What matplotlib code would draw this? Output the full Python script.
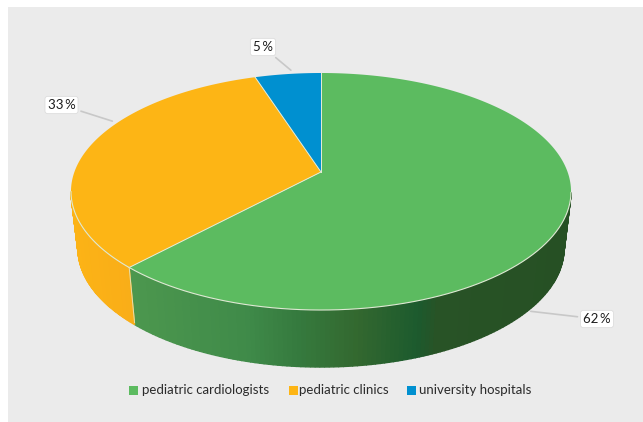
import matplotlib
matplotlib.use("Agg")
import matplotlib.pyplot as plt
import numpy as np

categories = ["pediatric cardiologists", "pediatric clinics", "university hospitals"]
shares = [62, 33, 5]
share_labels = ["62\u2009%", "33\u2009%", "5\u2009%"]
top_colors = ["#5cbb60", "#fdb515", "#0090d0"]

# side wall shading, left to right across the front of the pie
green_stops = [(133, "#4c974e"), (250, "#3f8a49"), (300, "#357a3e"), (360, "#33682f"),
               (420, "#1c5a2e"), (440, "#285326"), (571, "#265024")]
orange_stops = [(71, "#fcb316"), (133, "#f9ad18")]
depth = 57
shrink = 0.972

# circle seen in perspective, numbers in image pixels
cx, cy = 321, 172
a, b, k = 246.6, 115.3, 0.1646

def project(ang):
    u = np.sin(ang)
    v = np.cos(ang)
    d = 1 + k * v
    return cx + a * u / d, cy - b * v / d

def shade(x, stops):
    xs = [s[0] for s in stops]
    rgb = np.array([matplotlib.colors.to_rgb(s[1]) for s in stops])
    return [np.interp(x, xs, rgb[:, i]) for i in range(3)]

plt.rcParams["font.family"] = ["Lato", "DejaVu Sans"]

fig = plt.figure(figsize=(6.43, 4.22), dpi=100, facecolor="white")
ax = fig.add_axes([0, 0, 1, 1])
ax.set_xlim(0, 643)
ax.set_ylim(422, 0)
ax.axis("off")
ax.add_patch(plt.Rectangle((8, 7), 635, 415, color="#ebebeb", lw=0))

wall_from = np.arccos(-k)
start = 0
for i, share in enumerate(shares):
    end = start + share / sum(shares) * 2 * np.pi
    t = np.linspace(start, end, 240)
    x, y = project(t)

    # side wall only on the part of the rim facing the viewer
    stops = green_stops if i == 0 else orange_stops
    if i < 2:
        for j in range(len(t) - 1):
            if t[j] < wall_from or t[j + 1] > 2 * np.pi - wall_from:
                continue
            xb0 = cx + (x[j] - cx) * shrink
            xb1 = cx + (x[j + 1] - cx) * shrink
            # thick edge so neighbouring strips overlap and leave no seams
            ax.fill([x[j], x[j + 1], xb1, xb0],
                    [y[j], y[j + 1], y[j + 1] + depth, y[j] + depth],
                    color=shade(x[j], stops), lw=1.0, zorder=2)
    start = end

start = 0
for i, share in enumerate(shares):
    end = start + share / sum(shares) * 2 * np.pi
    t = np.linspace(start, end, 240)
    x, y = project(t)
    ax.fill(np.r_[cx, x], np.r_[cy, y], color=top_colors[i], lw=0, zorder=3)
    ax.plot(np.r_[cx, x[0]], np.r_[cy, y[0]], color="#e6ecd8", lw=0.7, zorder=4)
    front = (t > wall_from) & (t < 2 * np.pi - wall_from)
    if front.any():
        ax.plot(x[front], y[front], color="#dfe9d4", lw=0.8, zorder=4)
    start = end

# divider on the wall between green and orange
split = shares[0] / sum(shares) * 2 * np.pi
sx, sy = project(split)
ax.plot([sx, cx + (sx - cx) * shrink], [sy, sy + depth - 2], color="#e3dfb0", lw=0.7, zorder=4)

# labels with their thin leader lines
label_pos = [(597, 319), (61.5, 105), (263, 47)]
leader_end = [(528, 311), (115, 122), (293, 72)]
for lab, pos, tip in zip(share_labels, label_pos, leader_end):
    ax.annotate(lab, xy=tip, xytext=pos, ha="center", va="center", fontsize=9.5, color="#1c1c1c", zorder=6,
                bbox=dict(boxstyle="round,pad=0.2", fc="white", ec="#dddddd", lw=0.6),
                arrowprops=dict(arrowstyle="-", color="#c8c8c8", lw=1.2))

# legend
marker_x = [129, 289, 407]
text_x = [142, 299, 419]
for i, name in enumerate(categories):
    ax.add_patch(plt.Rectangle((marker_x[i], 386), 9, 9, color=top_colors[i], lw=0))
    ax.text(text_x[i], 389.5, name, fontsize=9.5, color="#2b2b2b", va="center", ha="left")

fig.savefig("out.png", dpi=100)
